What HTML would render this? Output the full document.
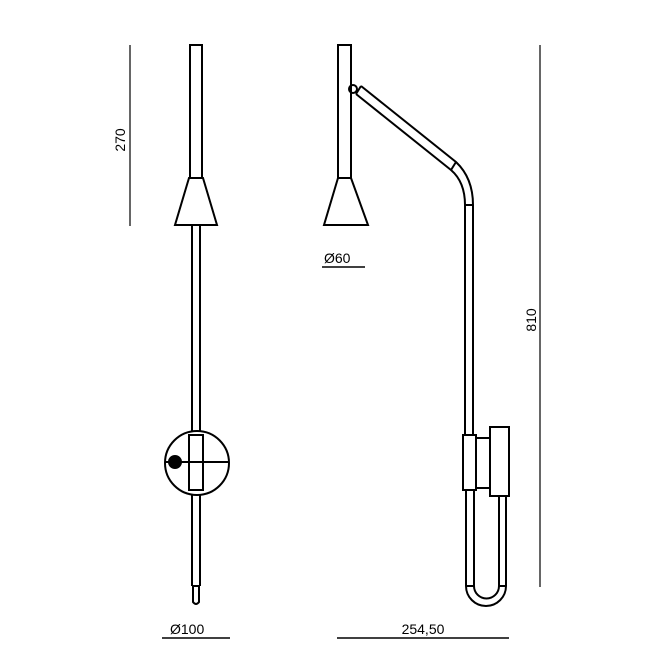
<!DOCTYPE html>
<html><head><style>body{margin:0;background:#fff}svg{display:block}</style></head><body>
<svg width="654" height="654" viewBox="0 0 654 654" xmlns="http://www.w3.org/2000/svg" font-family="Liberation Sans, sans-serif">
<g fill="none" stroke="#000" stroke-width="2">
<!-- dimension lines -->
<line x1="130" y1="45" x2="130" y2="226" stroke-width="1.2"/>
<line x1="540" y1="45" x2="540" y2="587" stroke-width="1.2"/>
<line x1="162" y1="638" x2="230" y2="638" stroke-width="1.4"/>
<line x1="337" y1="638" x2="509" y2="638" stroke-width="1.4"/>
<line x1="322" y1="267" x2="365" y2="267" stroke-width="1.4"/>
<!-- left lamp -->
<rect x="190" y="45" width="12" height="133"/>
<polygon points="189,178 203,178 217,225 175,225" fill="#fff"/>
<line x1="192" y1="225" x2="192" y2="586"/>
<line x1="200" y1="225" x2="200" y2="586"/>
<line x1="192" y1="586" x2="200" y2="586"/>
<path d="M193,586 V602 Q196,606 199,602 V586"/>
<circle cx="197" cy="463" r="32" fill="#fff"/>
<rect x="189" y="435" width="14" height="55" fill="#fff"/>
<line x1="166" y1="462" x2="228" y2="462"/>
<circle cx="175" cy="462" r="6" fill="#000"/>
<!-- right lamp -->
<rect x="338" y="45" width="13" height="133"/>
<polygon points="338,178 351,178 368,225 324,225" fill="#fff"/>
<circle cx="353" cy="89" r="4"/>
<path d="M361,86 L456,162 Q473,178 473,205 V435"/>
<path d="M356,94 L451,170 Q465,182 465,205 V435"/>
<line x1="361" y1="86" x2="356" y2="94"/>
<line x1="456" y1="162" x2="451" y2="170"/>
<line x1="465" y1="205" x2="473" y2="205"/>
<rect x="463" y="435" width="13" height="55" fill="#fff"/>
<rect x="476" y="438" width="14" height="50"/>
<rect x="490" y="427" width="19" height="69" fill="#fff"/>
<line x1="466" y1="490" x2="466" y2="586"/>
<line x1="474" y1="490" x2="474" y2="586"/>
<line x1="499" y1="496" x2="499" y2="586"/>
<line x1="506" y1="496" x2="506" y2="586"/>
<line x1="466" y1="586" x2="474" y2="586"/>
<line x1="499" y1="586" x2="506" y2="586"/>
<path d="M466,586 A20,20 0 0 0 506,586"/>
<path d="M474,586 A12.5,12.5 0 0 0 499,586"/>
</g>
<g font-size="14" fill="#000">
<text transform="translate(125,140) rotate(-90)" text-anchor="middle">270</text>
<text transform="translate(536,320) rotate(-90)" text-anchor="middle">810</text>
<text x="324" y="263">Ø60</text>
<text x="170" y="634">Ø100</text>
<text x="423" y="634" text-anchor="middle">254,50</text>
</g>
</svg>
</body></html>
